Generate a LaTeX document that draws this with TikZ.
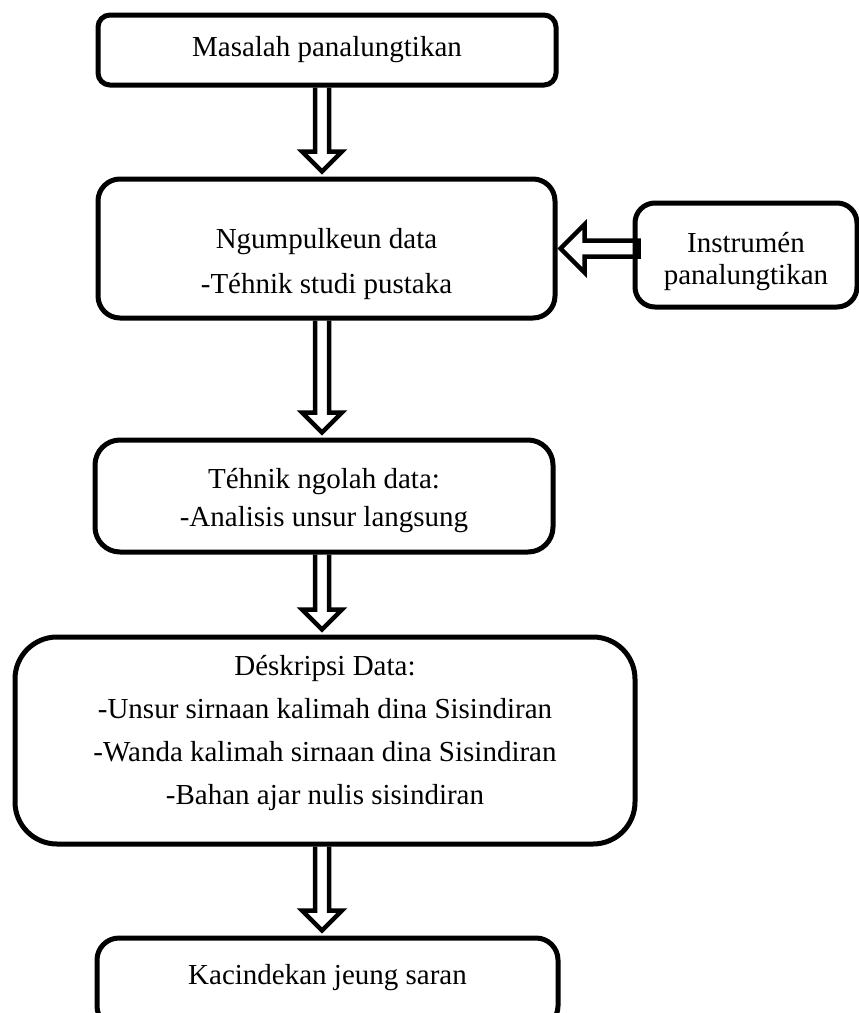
\documentclass[tikz,border=0pt]{standalone}
\usepackage{fontspec}
\setmainfont{Liberation Serif}
\usetikzlibrary{calc}
\tikzset{box/.style={draw, line width=5pt, rounded corners=#1, inner sep=0pt},
	box/.default=20pt,
	txt/.style={align=center, inner sep=0pt, font=\fontsize{29}{33}\selectfont},
	hollow/.style={draw, line width=4.5pt, line join=miter, miter limit=4}}
% hollow block arrow pointing down, from #1 to #2, on the line (mid)
\newcommand{\hollowdown}[2]{\draw[hollow]
	($(mid |- #1.south)+(-7,0)$) -- ($(mid |- #2.north)+(-7,-25)$)
	-- ($(mid |- #2.north)+(-20,-25)$) -- ($(mid |- #2.north)+(0,-5)$)
	-- ($(mid |- #2.north)+(20,-25)$) -- ($(mid |- #2.north)+(7,-25)$)
	-- ($(mid |- #1.south)+(7,0)$)}
% hollow block arrow pointing left, from #1 to #2
\newcommand{\hollowleft}[2]{\draw[hollow]
	($(#1.west |- #2.east)+(6,-8)$) -- ($(#2.east)+(27,-8)$)
	-- ($(#2.east)+(27,-24)$) -- ($(#2.east)+(3,0)$)
	-- ($(#2.east)+(27,24)$) -- ($(#2.east)+(27,8)$)
	-- ($(#1.west |- #2.east)+(6,8)$) -- cycle}

\begin{document}
\begin{tikzpicture}[x=1pt, y=-1pt]
	\useasboundingbox (0,0) rectangle (859,1013);
	\coordinate (mid) at (322,0);
	
	% boxes
	\node (problem) [box=12pt, minimum width=458pt, minimum height=70pt] at (327,50) {};
	\node (collect) [box=22pt, minimum width=457pt, minimum height=139pt] at (326.5,248.5) {};
	\node (instr) [box=20pt, minimum width=222pt, minimum height=104pt] at (746,255) {};
	\node (process) [box=25pt, minimum width=458pt, minimum height=112pt] at (324,496) {};
	\node (describe) [box=42pt, minimum width=620pt, minimum height=207pt] at (325,740.5) {};
	\node (conclude) [box=22pt, minimum width=461pt, minimum height=90pt] at (327.5,983) {};
	
	% texts
	\node (problemtxt) [txt] at (327,50) {Masalah panalungtikan};
	\node (collecttxt) [txt] at (326.5,264) {Ngumpulkeun data\\[12pt]-Téhnik studi pustaka};
	\node (instrtxt) [txt] at (746,262) {Instrumén\\[-1pt]panalungtikan};
	\node (processtxt) [txt] at (324,501) {Téhnik ngolah data:\\[5pt]-Analisis unsur langsung};
	\node (describetxt) [txt] at (325,733) {Déskripsi Data:\\[10pt]-Unsur sirnaan kalimah dina Sisindiran\\[10pt]-Wanda kalimah sirnaan dina Sisindiran\\[10pt]-Bahan ajar nulis sisindiran};
	\node (concludetxt) [txt] at (327.5,978) {Kacindekan jeung saran};
	
	% arrows
	\hollowdown{problem}{collect};
	\hollowdown{collect}{process};
	\hollowdown{process}{describe};
	\hollowdown{describe}{conclude};
	\hollowleft{instr}{collect};
\end{tikzpicture}
\end{document}
